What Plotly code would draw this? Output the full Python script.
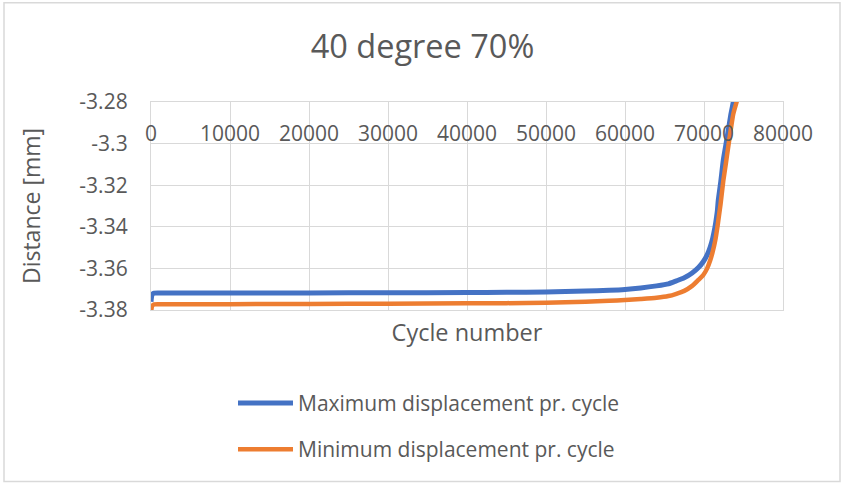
import plotly.graph_objects as go

# Data
cycles_max = [0, 150, 400, 1000, 10000, 20000, 30000, 40000, 45000, 50000, 55000, 58000, 60000,
              62000, 64000, 65500, 66500, 67500, 68500, 69300, 69900, 70400, 70800, 71100, 71400,
              71600, 71700, 71800, 72100, 72440, 72750, 73070, 73400, 73710, 74000]
disp_max = [-3.3760, -3.3725, -3.3719, -3.3718, -3.3718, -3.3718, -3.3717, -3.3716, -3.3715, -3.3713,
            -3.3709, -3.3705, -3.3701, -3.3694, -3.3684, -3.3674, -3.3660, -3.3645, -3.3622, -3.3596,
            -3.3568, -3.3535, -3.3496, -3.3455, -3.3400, -3.3350, -3.3320, -3.3275, -3.3190, -3.3081,
            -3.3010, -3.2937, -3.2860, -3.2800, -3.2740]

cycles_min = [0, 150, 400, 1000, 10000, 20000, 30000, 40000, 45000, 50000, 55000, 58000, 60000,
              62000, 64000, 65500, 66500, 67500, 68500, 69300, 69900, 70400, 70800, 71100, 71400,
              71700, 71900, 72100, 72440, 72750, 73070, 73400, 73710, 74130, 74400]
disp_min = [-3.3815, -3.3780, -3.3773, -3.3772, -3.3772, -3.3771, -3.3770, -3.3768, -3.3767, -3.3765,
            -3.3760, -3.3756, -3.3752, -3.3747, -3.3741, -3.3733, -3.3722, -3.3708, -3.3684, -3.3655,
            -3.3632, -3.3600, -3.3560, -3.3520, -3.3470, -3.3400, -3.3345, -3.3290, -3.3180, -3.3100,
            -3.3015, -3.2930, -3.2857, -3.2800, -3.2760]

series_names = ["Maximum displacement pr. cycle", "Minimum displacement pr. cycle"]
series_colors = ["#4472C4", "#ED7D31"]
title_text = "40 degree 70%"
x_title = "Cycle number"
y_title = "Distance [mm]"
x_range = [0, 80000]
y_range = [-3.38, -3.28]
x_tickvals = [0, 10000, 20000, 30000, 40000, 50000, 60000, 70000, 80000]
x_ticktext = ["0", "10000", "20000", "30000", "40000", "50000", "60000", "70000", "80000"]
y_tickvals = [-3.38, -3.36, -3.34, -3.32, -3.30, -3.28]
y_ticktext = ["-3.38", "-3.36", "-3.34", "-3.32", "-3.3", "-3.28"]

FONT = "Open Sans"
TXT = "#595959"
GRID = "#d9d9d9"

fig = go.Figure()
fig.add_trace(go.Scatter(x=cycles_max, y=disp_max, mode="lines", name=series_names[0],
                         line=dict(color=series_colors[0], width=5, shape="spline", smoothing=0.6),
                         legendgroup="a", xaxis="x", yaxis="y"))
fig.add_trace(go.Scatter(x=cycles_min, y=disp_min, mode="lines", name=series_names[1],
                         line=dict(color=series_colors[1], width=4.5, shape="spline", smoothing=0.6),
                         legendgroup="b", xaxis="x2", yaxis="y"))

fig.update_layout(
    width=845, height=485,
    margin=dict(l=151, r=62, t=101.5, b=175, autoexpand=False),
    paper_bgcolor="white", plot_bgcolor="white",
    font=dict(family=FONT, color=TXT, size=20),
    title=dict(text=title_text, x=0.5, xref="container", xanchor="center",
               y=1 - 47 / 485, yref="container", yanchor="middle",
               font=dict(family=FONT, size=32.5, color=TXT)),
    xaxis=dict(range=x_range, tickvals=x_tickvals, showgrid=True, gridcolor=GRID, gridwidth=1.3,
               showline=True, mirror=True, linecolor=GRID, linewidth=1.3,
               showticklabels=False, zeroline=False,
               title=dict(text=x_title, font=dict(size=23.5, color=TXT), standoff=14)),
    xaxis2=dict(range=x_range, tickvals=x_tickvals, ticktext=x_ticktext, overlaying="x",
                anchor="free", position=0.918, side="bottom", showgrid=False, showline=False,
                zeroline=False, tickfont=dict(size=21, color=TXT), ticks=""),
    yaxis=dict(range=y_range, tickvals=y_tickvals, ticktext=y_ticktext, showgrid=True,
               gridcolor=GRID, gridwidth=1.3,
               showline=True, mirror=True, linecolor=GRID, linewidth=1.3, zeroline=False,
               tickfont=dict(size=21, color=TXT), ticklabelstandoff=18,
               title=dict(text=y_title, font=dict(size=23, color=TXT), standoff=32)),
    showlegend=True,
    legend=dict(orientation="v", x=(233 - 151) / 632, xanchor="left", y=-0.35, yanchor="top",
                font=dict(size=21, color=TXT), tracegroupgap=16, itemwidth=55,
                bgcolor="rgba(0,0,0,0)"),
    shapes=[dict(type="rect", xref="paper", yref="paper",
                 x0=(4 - 151) / 632, x1=(840 - 151) / 632,
                 y0=(310 - 482) / 208.5, y1=(310 - 2) / 208.5,
                 line=dict(color=GRID, width=1.5), fillcolor="rgba(0,0,0,0)", layer="below")],
)

fig.write_html("out.html")
